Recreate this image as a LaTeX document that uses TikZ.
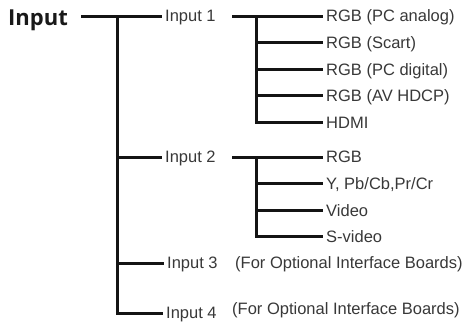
\documentclass[tikz,border=0pt]{standalone}
\usepackage{fontspec}
\setmainfont{Liberation Sans}
\newfontfamily\headfont{Open Sans}
\usetikzlibrary{positioning}

\begin{document}
\begin{tikzpicture}[
        x=1pt, y=-1pt,
        node distance=26.6pt,
        branch/.style={line width=3pt, draw=black!92},
        item/.style={anchor=west, inner xsep=3pt, inner ysep=0pt, text height=11.8pt, text depth=0pt, font=\fontsize{16.5}{18}\selectfont, text=black!78},
        leaf/.style={item},
        head/.style={anchor=west, inner sep=0pt, text height=15.7pt, text depth=0pt, font=\headfont\bfseries\fontsize{22}{24}\selectfont, text=black!90}
    ]
        \useasboundingbox (0,0) rectangle (470,325);

        % top level
        \node[head] (input) at (8,18) {Input};
        \coordinate (root) at (81,16);
        \coordinate (trunk) at (117,16);
        \node[item] (in1) at (162,16) {Input 1};
        \node[item] (in2) at (162,157) {Input 2};
        \node[item] (in3) at (164,263) {Input 3};
        \node[item] (in4) at (163,313) {Input 4};
        \node[item, inner xsep=0pt] (opt3) at (235,263) {(For Optional Interface Boards)};
        \node[item, inner xsep=0pt] (opt4) at (232,309) {(For Optional Interface Boards)};

        % Input 1
        \coordinate (s1) at (232,16);
        \coordinate (k1) at (256,16);
        \node[leaf] (a1) at (323,16) {RGB (PC analog)};
        \node[leaf, below=of a1.west, anchor=west] (a2) {RGB (Scart)};
        \node[leaf, below=of a2.west, anchor=west] (a3) {RGB (PC digital)};
        \node[leaf, below=of a3.west, anchor=west] (a4) {RGB (AV HDCP)};
        \node[leaf, below=of a4.west, anchor=west] (a5) {HDMI};

        % Input 2
        \coordinate (s2) at (232,157);
        \coordinate (k2) at (256,157);
        \node[leaf] (b1) at (323,157) {RGB};
        \node[leaf, below=of b1.west, anchor=west] (b2) {Y, Pb/Cb,Pr/Cr};
        \node[leaf, below=of b2.west, anchor=west] (b3) {Video};
        \node[leaf, below=of b3.west, anchor=west] (b4) {S-video};

        \draw[branch] (root) -- (in1.west);
        \draw[branch] (trunk) |- (in2.west);
        \draw[branch] (trunk) |- (in3.west);
        \draw[branch] (trunk) |- (in4.west);

        \draw[branch] (s1) -- (a1.west);
        \draw[branch] (k1) |- (a2.west);
        \draw[branch] (k1) |- (a3.west);
        \draw[branch] (k1) |- (a4.west);
        \draw[branch] (k1) |- (a5.west);

        \draw[branch] (s2) -- (b1.west);
        \draw[branch] (k2) |- (b2.west);
        \draw[branch] (k2) |- (b3.west);
        \draw[branch] (k2) |- (b4.west);
    \end{tikzpicture}
\end{document}
